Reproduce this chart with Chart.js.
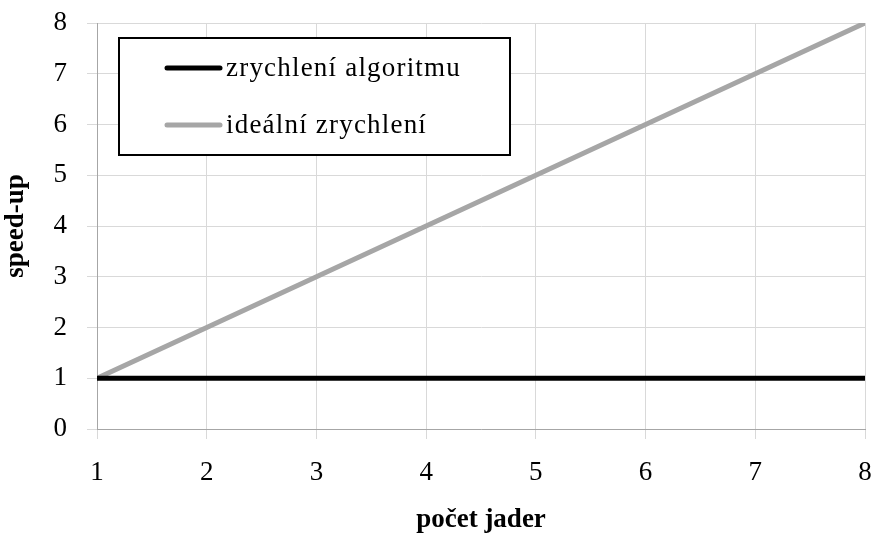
<!DOCTYPE html>
<html>
<head>
<meta charset="utf-8">
<script src="https://cdn.jsdelivr.net/npm/chart.js@4"></script>
<style>
  html, body { margin: 0; padding: 0; background: #fff; }
  #wrap { width: 873px; height: 534px; }
</style>
</head>
<body>
<div id="wrap"><canvas id="graf" width="873" height="534"></canvas></div>
<script>
// pocet jader (x) a zrychleni (y)
const jadra = [1, 2, 3, 4, 5, 6, 7, 8];
const zrychleniAlgoritmu = [1, 1, 1, 1, 1, 1, 1, 1];
const idealniZrychleni = [1, 2, 3, 4, 5, 6, 7, 8];
const popisky = ['zrychlení algoritmu', 'ideální zrychlení'];

const PISMO = "'Liberation Serif', serif";

// legenda v ramecku uvnitr grafu
const legendaVBoxu = {
    id: 'legendaVBoxu',
    afterDraw(chart) {
        const ctx = chart.ctx;
        ctx.save();
        ctx.fillStyle = '#fff';
        ctx.fillRect(119, 38, 391, 117);
        ctx.strokeStyle = '#000';
        ctx.lineWidth = 2;
        ctx.strokeRect(119, 38, 391, 117);
        const radky = [68, 125];
        chart.data.datasets.forEach((ds, i) => {
            const y = radky[i];
            ctx.beginPath();
            ctx.lineCap = 'round';
            ctx.lineWidth = ds.borderWidth;
            ctx.strokeStyle = ds.borderColor;
            ctx.moveTo(167, y);
            ctx.lineTo(220, y);
            ctx.stroke();
            ctx.fillStyle = '#000';
            ctx.font = '27px ' + PISMO;
            ctx.letterSpacing = '1.2px';
            ctx.textBaseline = 'middle';
            ctx.fillText(ds.label, 226, y + 1);
        });
        ctx.restore();
    }
};

// bez extra okraju kvuli popiskum na krajich
const bezOkraju = s => {
    s.paddingLeft = 0; s.paddingRight = 0; s.paddingTop = 0; s.paddingBottom = 0;
};

new Chart(document.getElementById('graf').getContext('2d'), {
    type: 'line',
    data: {
        datasets: [{
            label: popisky[0],
            data: jadra.map((x, i) => ({ x: x, y: zrychleniAlgoritmu[i] })),
            borderColor: '#000000',
            borderWidth: 5,
            borderCapStyle: 'round',
            pointRadius: 0
        }, {
            label: popisky[1],
            data: jadra.map((x, i) => ({ x: x, y: idealniZrychleni[i] })),
            borderColor: '#a6a6a6',
            borderWidth: 5,
            borderCapStyle: 'round',
            pointRadius: 0
        }]
    },
    options: {
        responsive: false,
        animation: false,
        layout: { padding: { top: 23, right: 8, left: 0, bottom: 0 } },
        plugins: { legend: { display: false }, tooltip: { enabled: false } },
        scales: {
            x: {
                type: 'linear',
                min: 1,
                max: 8,
                ticks: { stepSize: 1, padding: 18, color: '#000', font: { family: PISMO, size: 27 } },
                grid: { color: '#d9d9d9', tickLength: 10, tickColor: '#d9d9d9' },
                border: { color: '#a6a6a6', width: 1 },
                title: { display: true, text: 'počet jader', color: '#000', padding: { top: 0, bottom: 0 },
                         font: { family: PISMO, size: 27, weight: 'bold', lineHeight: 1 } },
                afterFit: s => { s.height = 105; bezOkraju(s); }
            },
            y: {
                min: 0,
                max: 8,
                ticks: { stepSize: 1, padding: 20, color: '#000', font: { family: PISMO, size: 27 } },
                grid: { color: '#d9d9d9', tickLength: 10, tickColor: '#d9d9d9' },
                border: { color: '#a6a6a6', width: 1 },
                title: { display: true, text: 'speed-up', color: '#000', padding: { top: 3, bottom: 0 },
                         font: { family: PISMO, size: 27, weight: 'bold', lineHeight: 1 } },
                afterFit: s => { s.width = 97; bezOkraju(s); }
            }
        }
    },
    plugins: [legendaVBoxu]
});
</script>
</body>
</html>
